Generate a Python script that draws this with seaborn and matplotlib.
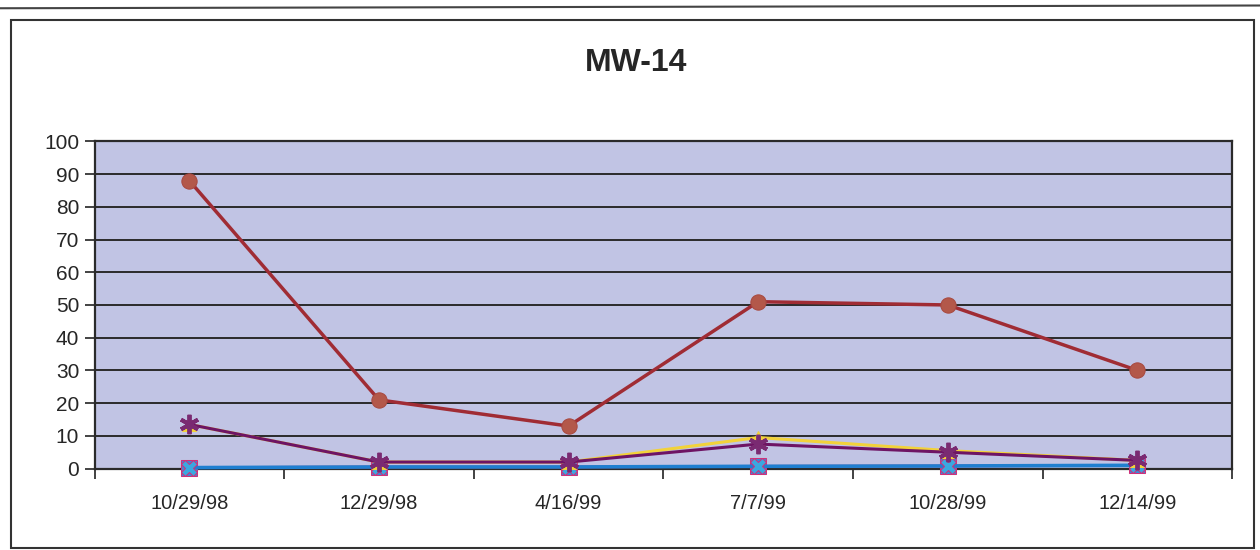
import matplotlib
matplotlib.use('Agg')
import matplotlib.pyplot as plt
import seaborn as sns
import numpy as np
from matplotlib.patches import Rectangle

dates = ['10/29/98', '12/29/98', '4/16/99', '7/7/99', '10/28/99', '12/14/99']
s_square = [0.3, 0.5, 0.5, 0.7, 0.8, 1.0]
s_triangle = [13.5, 2.0, 2.0, 9.5, 5.5, 2.5]
s_cross = [0.3, 0.5, 0.5, 0.7, 0.8, 1.0]
s_asterisk = [13.5, 2.0, 2.0, 7.5, 5.0, 2.5]
s_circle = [88, 21, 13, 51, 50, 30]

sns.set_theme(style='white')
plt.rcParams['font.family'] = ['Liberation Sans', 'DejaVu Sans']

fig = plt.figure(figsize=(12.6, 5.5), dpi=100)
ax = fig.add_axes([0.075, 0.148, 0.903, 0.595])
ax.set_facecolor('#c1c4e4')

x = np.arange(len(dates))

# series drawn back to front so the overlap looks like the scan
sns.lineplot(x=x, y=s_square, ax=ax, color='#d0307a', lw=2, marker='s',
             markersize=12, markeredgecolor='#d0307a', markerfacecolor='#3a8ad8',
             zorder=3, clip_on=False)
sns.lineplot(x=x, y=s_cross, ax=ax, color='#1f7fd0', lw=2.6, marker='X',
             markersize=12, markeredgecolor='#d0307a', markerfacecolor='#3aa8e0',
             zorder=4, clip_on=False)
sns.lineplot(x=x, y=s_triangle, ax=ax, color='#f2d23a', lw=2.2, marker='^',
             markersize=10, markeredgecolor='#f2d23a', markerfacecolor='#f2d23a',
             zorder=5, clip_on=False)
sns.lineplot(x=x, y=s_asterisk, ax=ax, color='#6e1464', lw=2.2, marker=(6, 2, 0),
             markersize=14, markeredgewidth=2.8, markeredgecolor='#7a2a72',
             zorder=6, clip_on=False)
sns.lineplot(x=x, y=s_circle, ax=ax, color='#a02c34', lw=2.5, marker='o',
             markersize=11, markeredgecolor='#a84a40', markerfacecolor='#b3584a',
             zorder=7, clip_on=False)

ax.set_xlim(-0.5, len(dates) - 0.5)
ax.set_ylim(0, 100)
ax.set_yticks(range(0, 101, 10))
ax.set_xticks(x)
ax.set_xticklabels(dates, fontsize=14.5)
ax.set_xticks(np.arange(-0.5, len(dates), 1), minor=True)
ax.tick_params(axis='x', which='major', length=0, pad=18)
ax.tick_params(axis='x', which='minor', length=7, width=1.2, color='#222222', direction='out', bottom=True)
ax.tick_params(axis='y', length=7, width=1.2, color='#222222', direction='out', left=True,
               labelsize=15, pad=4)
ax.set_xlabel('')
ax.set_ylabel('')

for v in range(10, 101, 10):
    ax.axhline(v, color='#2a2a2a', lw=1.4, zorder=1)
for side in ax.spines.values():
    side.set_color('#2a2a2a')
    side.set_linewidth(1.6)

fig.text(0.505, 0.885, 'MW-14', ha='center', va='center', fontsize=23, fontweight='bold')

# chart frame and the edge of the box above it, as on the printed page
fig.patches.append(Rectangle((0.009, 0.003), 0.986, 0.96, transform=fig.transFigure,
                             fill=False, edgecolor='#333333', lw=1.5))
fig.add_artist(plt.Line2D([0.0, 1.0], [0.985, 0.99], transform=fig.transFigure,
                          color='#444444', lw=1.5))

plt.savefig('out.png', dpi=100)
